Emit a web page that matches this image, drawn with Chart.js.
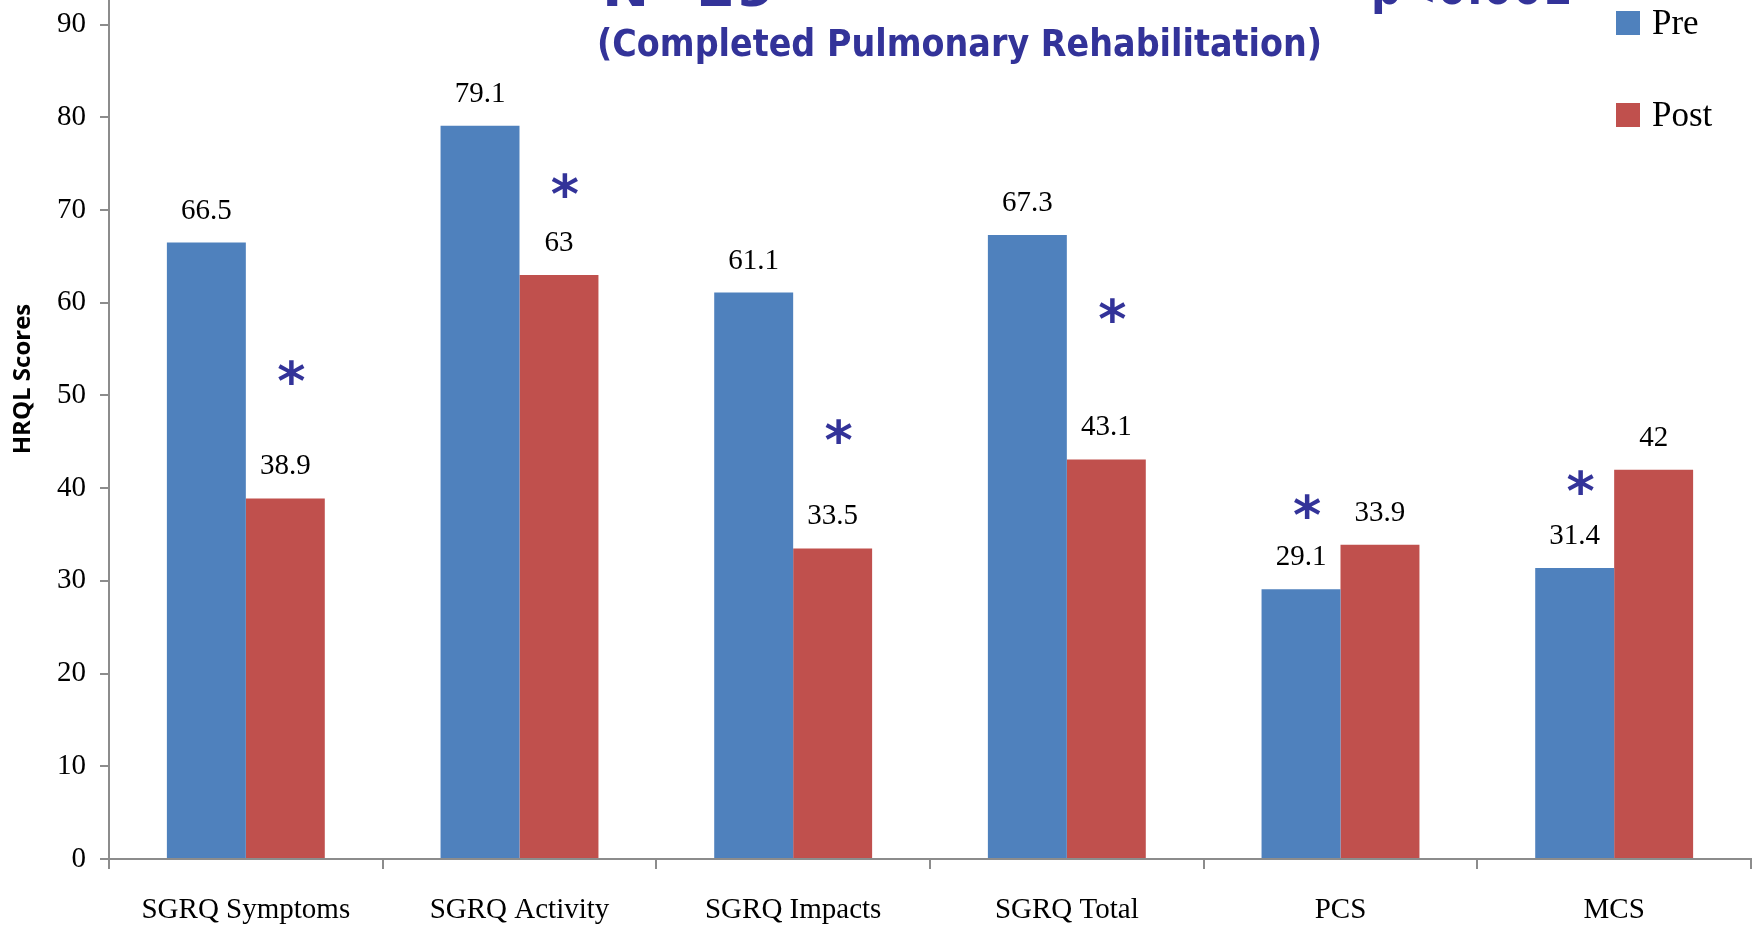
<!DOCTYPE html>
<html>
<head>
<meta charset="utf-8">
<script src="https://cdn.jsdelivr.net/npm/chart.js@4.4.1/dist/chart.umd.min.js"></script>
<style>
  body { margin: 0; background: #fff; }
  #hrql-chart { display: block; }
</style>
</head>
<body>
<canvas id="hrql-chart" width="1757" height="926"></canvas>
<script>
// HRQL scores pre / post pulmonary rehab

const categories = ['SGRQ Symptoms', 'SGRQ Activity', 'SGRQ Impacts', 'SGRQ Total', 'PCS', 'MCS'];
const preScores = [66.5, 79.1, 61.1, 67.3, 29.1, 31.4];
const postScores = [38.9, 63, 33.5, 43.1, 33.9, 42];
const yTicks = [0, 10, 20, 30, 40, 50, 60, 70, 80, 90];

// significance stars: which series they sit over, and at what score height
const starSeries = [1, 1, 1, 1, 0, 0];
const starLevel = [52.5, 72.6, 46.1, 59.2, 38.0, 40.6];

const BLUE = '#4f81bd';
const RED = '#c0504d';
const INK = '#333399';
const AXIS = '#8c8c8c';
const SERIF = '"Liberation Serif", "Times New Roman", serif';

// draw text squeezed to a given width
function fitText(ctx, txt, x, y, width) {
    const w = ctx.measureText(txt).width;
    ctx.save();
    ctx.translate(x, y);
    ctx.scale(width / w, 1);
    ctx.fillText(txt, 0, 0);
    ctx.restore();
}

const overlay = {
    id: 'overlay',
    afterDraw(chart) {
        const ctx = chart.ctx;
        const y = chart.scales.y;
        ctx.save();

        // value labels over bars
        ctx.fillStyle = '#000';
        ctx.font = '29px ' + SERIF;
        ctx.textAlign = 'center';
        ctx.textBaseline = 'alphabetic';
        chart.data.datasets.forEach((ds, i) => {
            chart.getDatasetMeta(i).data.forEach((bar, j) => {
                ctx.fillText(String(ds.data[j]), bar.x, bar.y - 24);
            });
        });

        // stars
        ctx.fillStyle = INK;
        ctx.font = 'bold 54px "DejaVu Sans", sans-serif';
        const m = ctx.measureText('*');
        const mid = (m.actualBoundingBoxAscent - m.actualBoundingBoxDescent) / 2;
        starLevel.forEach((v, j) => {
            const bar = chart.getDatasetMeta(starSeries[j]).data[j];
            ctx.fillText('*', bar.x + 6, y.getPixelForValue(v) + mid);
        });

        // titles (top line is cut off by the frame)
        ctx.textAlign = 'left';
        ctx.font = 'bold 50px "DejaVu Sans", sans-serif';
        fitText(ctx, 'N=29', 602, 6, 173);
        fitText(ctx, 'p<0.001', 1371, 4, 201);

        ctx.font = 'bold 37px "DejaVu Sans", sans-serif';
        ctx.textBaseline = 'middle';
        fitText(ctx, '(Completed Pulmonary Rehabilitation)', 597, 46, 725);

        // y axis title
        ctx.save();
        ctx.translate(23, 379);
        ctx.rotate(-Math.PI / 2);
        ctx.fillStyle = '#000';
        ctx.font = 'bold 24px "Open Sans", sans-serif';
        ctx.textAlign = 'center';
        ctx.textBaseline = 'middle';
        ctx.fillText('HRQL Scores', 0, 0);
        ctx.restore();

        // legend
        ctx.font = '35px ' + SERIF;
        ctx.textBaseline = 'middle';
        ctx.textAlign = 'left';
        chart.data.datasets.forEach((ds, i) => {
            const ly = 23 + i * 92;
            ctx.fillStyle = ds.backgroundColor;
            ctx.fillRect(1616, ly - 12, 24, 24);
            ctx.fillStyle = '#000';
            ctx.fillText(ds.label, 1652, ly + 2);
        });

        ctx.restore();
    }
};

const barConfig = {
    type: 'bar',
    data: {
        labels: categories,
        datasets: [{
            label: 'Pre',
            data: preScores,
            backgroundColor: BLUE
        }, {
            label: 'Post',
            data: postScores,
            backgroundColor: RED
        }]
    },
    options: {
        responsive: false,
        animation: false,
        events: [],
        categoryPercentage: 0.577,
        barPercentage: 1,
        layout: { padding: { top: 0, right: 6, left: 0, bottom: 0 } },
        plugins: {
            legend: { display: false },
            tooltip: { enabled: false }
        },
        scales: {
            x: {
                grid: {
                    offset: true,
                    drawOnChartArea: false,
                    tickLength: 10,
                    color: AXIS,
                    lineWidth: 2
                },
                border: { color: AXIS, width: 2 },
                ticks: {
                    color: '#000',
                    font: { family: SERIF, size: 29 },
                    padding: 24,
                    maxRotation: 0,
                    autoSkip: false
                },
                afterFit: s => {
                    s.height = 67;
                    s.paddingLeft = 0;
                    s.paddingRight = 0;
                }
            },
            y: {
                min: 0,
                max: 92.66,
                grid: {
                    drawOnChartArea: false,
                    tickLength: 9,
                    color: AXIS,
                    lineWidth: 2
                },
                border: { color: AXIS, width: 2 },
                ticks: {
                    stepSize: 10,
                    color: '#000',
                    font: { family: SERIF, size: 29 },
                    padding: 14
                },
                afterBuildTicks: s => {
                    s.ticks = yTicks.map(v => ({ value: v }));
                },
                afterFit: s => {
                    s.width = 109;
                    s.paddingTop = 0;
                    s.paddingBottom = 0;
                }
            }
        }
    },
    plugins: [overlay]
};

var hrqlChart = new Chart(document.getElementById('hrql-chart'), barConfig);
</script>
</body>
</html>
